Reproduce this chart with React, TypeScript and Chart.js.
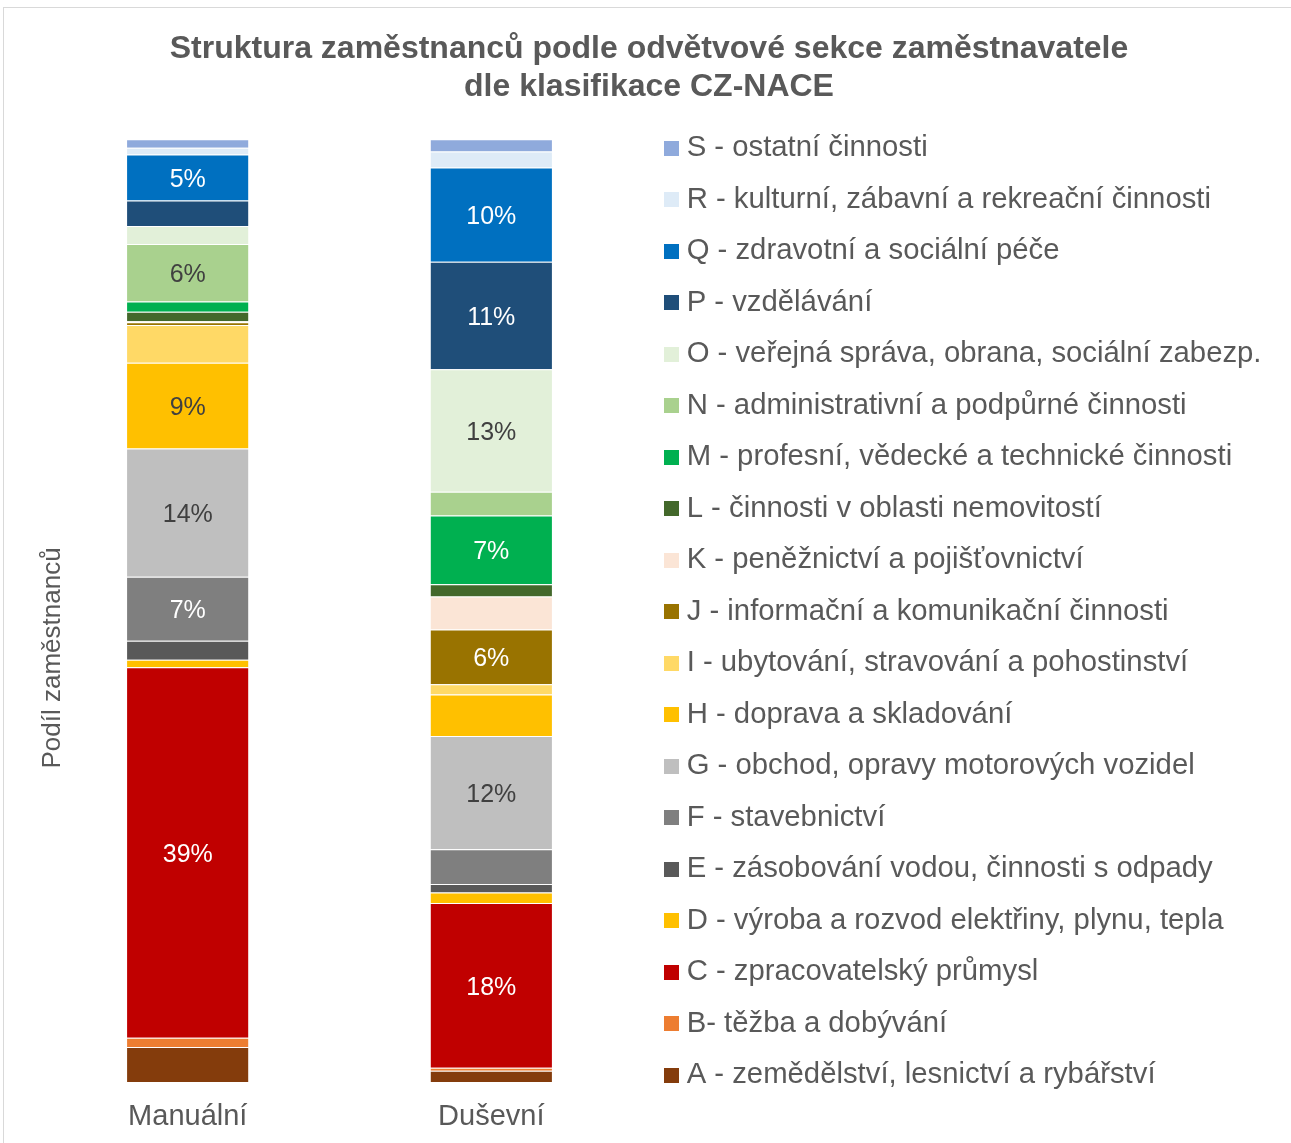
import React, { useEffect, useRef } from 'react';
import { Chart, registerables } from 'chart.js';

Chart.register(...registerables);

const categories = ['Manuální', 'Duševní'];

const sectionLabels = [
  'A - zemědělství, lesnictví a rybářství',
  'B- těžba a dobývání',
  'C - zpracovatelský průmysl',
  'D - výroba a rozvod elektřiny, plynu, tepla',
  'E - zásobování vodou, činnosti s odpady',
  'F - stavebnictví',
  'G - obchod, opravy motorových vozidel',
  'H - doprava a skladování',
  'I - ubytování, stravování a pohostinství',
  'J - informační a komunikační činnosti',
  'K - peněžnictví a pojišťovnictví',
  'L - činnosti v oblasti nemovitostí',
  'M - profesní, vědecké a technické činnosti',
  'N - administrativní a podpůrné činnosti',
  'O - veřejná správa, obrana, sociální zabezp.',
  'P - vzdělávání',
  'Q - zdravotní a sociální péče',
  'R - kulturní, zábavní a rekreační činnosti',
  'S - ostatní činnosti',
];

// shares in % (A .. S)
const manualValues = [3.7, 1.0, 39.3, 0.8, 2.0, 6.8, 13.6, 9.1, 4.0, 0.3, 0.1, 1.0, 1.1, 6.1, 1.9, 2.7, 4.9, 0.7, 0.9];
const mentalValues = [1.2, 0.3, 17.5, 1.1, 0.9, 3.7, 12.0, 4.4, 1.1, 5.8, 3.5, 1.3, 7.3, 2.5, 13.0, 11.4, 10.0, 1.7, 1.3];

const sectionColors = [
  '#843C0C', '#ED7D31', '#C00000', '#FFC000', '#595959', '#7F7F7F', '#BFBFBF',
  '#FFC000', '#FFD966', '#997300', '#FBE5D6', '#43682B', '#00B050', '#A9D18E',
  '#E2F0D9', '#1F4E79', '#0070C0', '#DEEBF7', '#8FAADC',
];

const labelTextColors = [
  '#FFFFFF', '#FFFFFF', '#FFFFFF', '#404040', '#FFFFFF', '#FFFFFF', '#404040',
  '#404040', '#404040', '#FFFFFF', '#404040', '#FFFFFF', '#FFFFFF', '#404040',
  '#404040', '#FFFFFF', '#FFFFFF', '#404040', '#404040',
];

const chartTitle = ['Struktura zaměstnanců podle odvětvové sekce zaměstnavatele', 'dle klasifikace CZ-NACE'];
const yAxisTitle = 'Podíl zaměstnanců';
const LABEL_MIN = 4.5;

const FONT = "'Liberation Sans', Arial, sans-serif";
const TEXT = '#595959';

export default function App() {
  const ref = useRef<HTMLCanvasElement>(null);

  useEffect(() => {
    const canvas = ref.current;
    if (!canvas) return;

    const swatches = sectionColors.map((c) => {
      const s = document.createElement('canvas');
      s.width = 15;
      s.height = 15;
      const g = s.getContext('2d')!;
      g.fillStyle = c;
      g.fillRect(0, 0, 15, 15);
      return s;
    });

    const datasets = sectionLabels.map((label, i) => ({
      label,
      data: [manualValues[i], mentalValues[i]],
      backgroundColor: sectionColors[i],
      borderColor: 'rgba(255,255,255,0.45)',
      borderWidth: { top: 1, bottom: 0, left: 0, right: 0 },
      borderSkipped: false,
      barPercentage: 0.4,
      categoryPercentage: 1,
    }));

    const valueLabels = {
      id: 'valueLabels',
      afterDatasetsDraw(chart: any) {
        const ctx = chart.ctx;
        ctx.save();
        ctx.font = `25px ${FONT}`;
        ctx.textAlign = 'center';
        ctx.textBaseline = 'middle';
        chart.data.datasets.forEach((ds: any, i: number) => {
          const meta = chart.getDatasetMeta(i);
          meta.data.forEach((bar: any, j: number) => {
            const v = ds.data[j];
            if (v < LABEL_MIN) return;
            const p = bar.getProps(['x', 'y', 'base'], true);
            ctx.fillStyle = labelTextColors[i];
            ctx.fillText(Math.round(v) + '%', p.x, (p.y + p.base) / 2 + 2.5);
          });
        });
        ctx.restore();
      },
    };

    const yTitle = {
      id: 'yTitle',
      afterDraw(chart: any) {
        const { ctx, chartArea } = chart;
        ctx.save();
        ctx.translate(chartArea.left + 17.3, (chartArea.top + chartArea.bottom) / 2 + 47.3);
        ctx.rotate(-Math.PI / 2);
        ctx.font = `26px ${FONT}`;
        ctx.fillStyle = TEXT;
        ctx.textAlign = 'center';
        ctx.textBaseline = 'middle';
        ctx.fillText(yAxisTitle, 0, 0);
        ctx.restore();
      },
    };

    const baseGen = (Chart.defaults.plugins.legend.labels as any).generateLabels;

    const chart = new Chart(canvas, {
      type: 'bar',
      data: { labels: categories, datasets: datasets as any },
      options: {
        responsive: false,
        animation: false,
        devicePixelRatio: 1,
        font: { family: FONT },
        layout: { padding: { left: 32, right: 29, top: 0, bottom: 0.6 } },
        scales: {
          x: {
            stacked: true,
            grid: { display: false, drawTicks: false },
            border: { display: false },
            ticks: { color: TEXT, font: { size: 29, family: FONT }, padding: 17.3, maxRotation: 0 },
          },
          y: { stacked: true, display: false, min: 0, max: 100 },
        },
        plugins: {
          title: {
            display: true,
            text: chartTitle,
            color: TEXT,
            font: { size: 32, weight: 'bold', family: FONT, lineHeight: 38 / 32 },
            padding: { top: 22, bottom: 33.3 },
          },
          legend: {
            position: 'right',
            align: 'start',
            reverse: true,
            maxWidth: 619,
            title: {
              display: true,
              text: ' ',
              font: { size: 10, lineHeight: 1 },
              padding: { top: 0, bottom: 87.35 },
            },
            labels: {
              usePointStyle: true,
              pointStyleWidth: 1,
              boxHeight: 15,
              padding: 28,
              color: TEXT,
              font: { size: 29.3, family: FONT, lineHeight: 23.5 / 29.3 },
              generateLabels: (ch: any) =>
                baseGen(ch).map((it: any) => ({
                  ...it,
                  text: [it.text],
                  pointStyle: swatches[it.datasetIndex],
                  lineWidth: 0,
                })),
            },
          },
          tooltip: { enabled: false },
        },
      } as any,
      plugins: [valueLabels, yTitle],
    });

    return () => chart.destroy();
  }, []);

  return (
    <div
      style={{
        position: 'fixed',
        left: 3,
        top: 7,
        width: 1287,
        height: 1144,
        border: '1px solid #D9D9D9',
        background: '#FFFFFF',
        overflow: 'hidden',
      }}
    >
      <canvas ref={ref} width={1287} height={1144} style={{ display: 'block' }} />
    </div>
  );
}
